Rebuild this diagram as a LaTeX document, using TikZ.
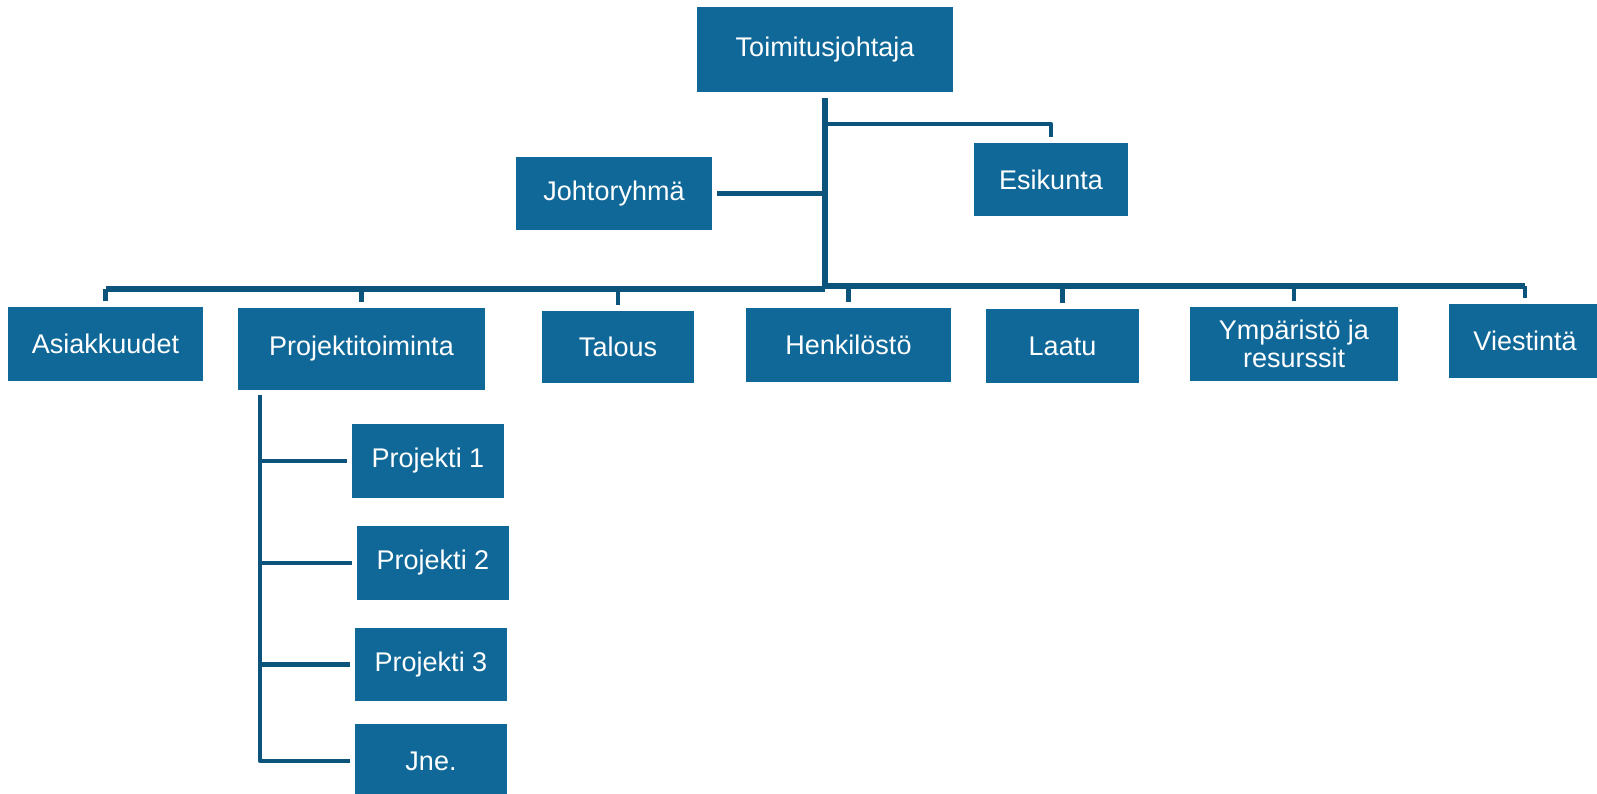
\documentclass[tikz,border=0pt]{standalone}
\usepackage{fontspec}
\setmainfont{Liberation Sans}
\definecolor{boxblue}{RGB}{16,104,152}
\definecolor{lineblue}{RGB}{12,84,124}
\begin{document}
\begin{tikzpicture}[x=1pt,y=-1pt,
  orgbox/.style={rectangle, fill=boxblue, draw=none, inner sep=0pt, text=white,
    align=center, font=\fontsize{27}{28}\selectfont},
  conn/.style={draw=lineblue, line width=4.5pt, line join=round, line cap=butt},
  thick conn/.style={draw=lineblue, line width=6.5pt, line join=round}]
\useasboundingbox (0,0) rectangle (1597,794);
% boxes
\node[orgbox, minimum width=256pt, minimum height=85pt] (toim) at (825,49.5) {Toimitusjohtaja};
\node[orgbox, minimum width=196pt, minimum height=73pt] (joht) at (614,193.5) {Johtoryhmä};
\node[orgbox, minimum width=154pt, minimum height=73pt] (esik) at (1051,179.5) {Esikunta};
\node[orgbox, minimum width=195pt, minimum height=74pt] (asia) at (105.5,344) {Asiakkuudet};
\node[orgbox, minimum width=247pt, minimum height=82pt] (proj) at (361.5,349) {Projektitoiminta};
\node[orgbox, minimum width=152pt, minimum height=72pt] (talo) at (618,347) {Talous};
\node[orgbox, minimum width=205pt, minimum height=74pt] (henk) at (848.5,345) {Henkilöstö};
\node[orgbox, minimum width=153pt, minimum height=74pt] (laat) at (1062.5,346) {Laatu};
\node[orgbox, minimum width=208pt, minimum height=74pt] (ymp) at (1294,344) {Ympäristö ja\\resurssit};
\node[orgbox, minimum width=152pt, minimum height=74pt] (vies) at (1525,341) {Viestintä};
\node[orgbox, minimum width=152pt, minimum height=74pt] (p1) at (428,461) {Projekti 1};
\node[orgbox, minimum width=152pt, minimum height=74pt] (p2) at (433,563) {Projekti 2};
\node[orgbox, minimum width=152pt, minimum height=73pt] (p3) at (431,664.5) {Projekti 3};
\node[orgbox, minimum width=152pt, minimum height=74pt] (jne) at (431,761) {Jne.};
% coordinates
\coordinate (busL) at (825,289);
\coordinate (busR) at (825,286);
\coordinate (esb) at (825,124);
\coordinate (jnb) at (825,193.5);
\coordinate (sv) at (260,395);
% trunk
\draw[thick conn] ([yshift=-6pt]toim.south) -- (busL);
% Esikunta and Johtoryhma
\draw[conn] (esb) -| ([yshift=6pt]esik.north);
\draw[conn] ([xshift=5pt]joht.east) -- (jnb);
% bus
\draw[thick conn] (asia.north |- busL) -- (busL);
\draw[thick conn] (busR) -- (vies.north |- busR);
% drops
\draw[conn] ([yshift=6pt]asia.north) -- (asia.north |- busL);
\draw[conn] ([yshift=6pt]proj.north) -- (proj.north |- busL);
\draw[conn] ([yshift=6pt]talo.north) -- (talo.north |- busL);
\draw[conn] ([yshift=6pt]henk.north) -- (henk.north |- busR);
\draw[conn] ([yshift=6pt]laat.north) -- (laat.north |- busR);
\draw[conn] ([yshift=6pt]ymp.north) -- (ymp.north |- busR);
\draw[conn] ([yshift=6pt]vies.north) -- (vies.north |- busR);
% project sub-branch
\draw[conn] (sv) |- ([xshift=-5pt]jne.west);
\draw[conn] (p1.west -| sv) -- ([xshift=-5pt]p1.west);
\draw[conn] (p2.west -| sv) -- ([xshift=-5pt]p2.west);
\draw[conn] (p3.west -| sv) -- ([xshift=-5pt]p3.west);
\end{tikzpicture}
\end{document}
